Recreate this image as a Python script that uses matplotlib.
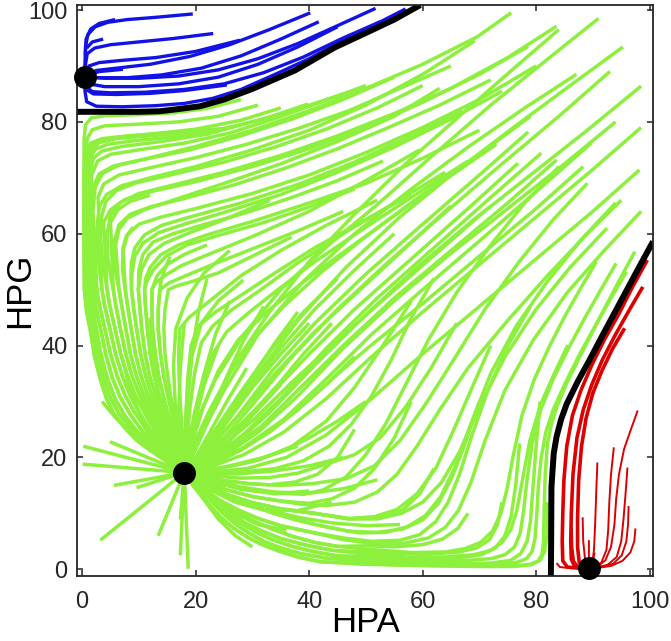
import matplotlib
matplotlib.use("Agg")
import matplotlib.pyplot as plt

# Colours
GREEN = "#8cf03c"
BLUE = "#1212e6"
RED = "#dd0000"

# Stable states (HPA, HPG)
fixed_x = [0.5, 18.0, 89.4]
fixed_y = [88.1, 17.3, 0.2]

# Separatrices
sep_upper = [(-0.9, 81.8), (5, 81.8), (10, 81.8), (13.7, 81.9), (17, 82.3), (20.8, 82.8),
             (25, 84.0), (30, 85.9), (37.5, 89.2), (44.5, 93.3), (50, 95.9), (55, 98.3),
             (59.6, 100.9)]
sep_lower = [(82.6, -1.2), (82.65, 5), (82.7, 14.7), (83.1, 20.7), (83.6, 23.7), (84.4, 26.8),
             (85.4, 29.6), (87.3, 33.5), (89.4, 37.4), (92, 42.4), (94.7, 47.5), (97.6, 53),
             (100.6, 58.6)]

# ---- green: lower parts (below HPG=50) of the trajectories coming down the left side
T01 = [(0.4, 50), (0.8, 46), (1.4, 43), (2.2, 38), (3.2, 34), (4.3, 30.5), (5.5, 28), (7.5, 25.3),
       (9.6, 23.1), (11.7, 21.5), (13.7, 20.1), (16, 18.6), (18, 17.3)]
T02 = [(0.8, 50), (1.4, 46), (1.95, 43), (2.8, 38), (3.8, 34.2), (5, 30.6), (6.5, 27.8), (8.5, 25.2),
       (10.8, 23), (13, 21.3), (15.5, 19.3), (18, 17.3)]
T03 = [(1.4, 50), (1.8, 47), (2.5, 43), (3.4, 38), (4.5, 34), (5.8, 30.5), (7.5, 27.5), (9.6, 24.8),
       (12, 22.5), (14.5, 20.3), (18, 17.3)]
T04 = [(2.0, 50), (2.4, 47), (3.25, 43), (4.2, 38.3), (5.3, 34.3), (6.7, 30.8), (8.4, 27.8), (10.4, 25),
       (12.7, 22.4), (15.2, 20), (18, 17.3)]
T05 = [(2.6, 50), (3, 47.5), (4, 43), (5, 38.5), (6.2, 34.5), (7.6, 31), (9.3, 28), (11.3, 25),
       (13.5, 22.3), (15.8, 19.8), (18, 17.3)]
T06 = [(3.5, 50), (3.9, 47.5), (4.9, 43), (5.9, 38.5), (7.1, 34.5), (8.5, 31), (10.1, 28), (12, 25),
       (14, 22.3), (16, 19.8), (18, 17.3)]
T07 = [(4.4, 50), (4.8, 47.5), (5.8, 43), (6.8, 38.5), (8, 34.5), (9.4, 31), (11, 28), (12.8, 25),
       (14.6, 22.3), (16.3, 19.8), (18, 17.3)]
T08 = [(5.5, 50), (5.9, 47.3), (6.75, 43), (7.7, 38.5), (8.8, 34.5), (10.2, 31), (11.6, 28), (13.3, 25),
       (15, 22.2), (16.5, 19.7), (18, 17.3)]
T09 = [(6.5, 50), (7, 47), (7.7, 43), (8.5, 38.5), (9.6, 34.5), (10.9, 31), (12.3, 28), (13.8, 25),
       (15.3, 22.2), (16.7, 19.7), (18, 17.3)]
T10 = [(7.6, 50), (8.1, 46.5), (8.65, 43), (9.4, 38.5), (10.4, 34.5), (11.6, 31), (12.9, 28),
       (14.3, 24.8), (15.8, 21.8), (18, 17.3)]
T11 = [(8.7, 50), (9.1, 46.5), (9.6, 43), (10.3, 38.5), (11.2, 34.5), (12.3, 31), (13.5, 27.8),
       (14.8, 24.7), (16.2, 21.5), (18, 17.3)]
T12 = [(9.9, 50), (10.2, 46.5), (10.5, 43), (11.1, 38.5), (11.9, 34.5), (13, 31), (14.1, 27.7),
       (15.3, 24.5), (16.5, 21.2), (18, 17.3)]
T13 = [(11, 50), (11.2, 46.5), (11.5, 43), (12, 38.5), (12.7, 34.5), (13.6, 31), (14.6, 27.6),
       (15.7, 24.3), (16.8, 21), (18, 17.3)]
T14 = [(12.3, 50), (12.3, 46.5), (12.4, 43), (12.9, 38.5), (13.5, 34.5), (14.3, 31), (15.2, 27.5),
       (16.2, 24.2), (17.1, 20.8), (18, 17.3)]
T15 = [(13.7, 50), (13.4, 46.5), (13.4, 43), (13.8, 38.5), (14.4, 34.5), (15.1, 31), (15.9, 27.5),
       (16.7, 24), (17.4, 20.6), (18, 17.3)]
T16 = [(15.2, 50), (14.6, 46.5), (14.4, 43), (14.6, 38.5), (15.1, 34.5), (15.6, 31), (16.3, 27.5),
       (17, 24), (17.5, 20.6), (18, 17.3)]

# ---- green: left-going ends of the trajectories running along the HPA axis
TRa = [(42, 1.35), (38, 2.2), (34.3, 3.4), (31.5, 4.5), (29, 5.8), (26.5, 7.5), (24.3, 9.4), (22, 12),
       (20.2, 14.7), (18, 17.3)]
TRb = [(43, 2.0), (38.5, 2.8), (35, 3.8), (32, 5), (29.5, 6.4), (27, 8.1), (24.8, 10), (22.6, 12.4),
       (20.5, 14.9), (18, 17.3)]
TRc = [(45, 2.4), (41, 3.1), (37, 4.1), (33.5, 5.3), (30.5, 6.7), (27.8, 8.3), (25.3, 10.2), (23, 12.3),
       (20.8, 14.6), (18, 17.3)]
TRd = [(44, 3.4), (39.5, 4.3), (35, 5.5), (31.5, 6.9), (28.5, 8.4), (25.8, 10.2), (23.4, 12.2), (21, 14.5),
       (18, 17.3)]
TRe = [(45, 4.1), (41, 4.8), (37, 5.9), (33.5, 7.2), (30.3, 8.6), (27.4, 10.1), (24.8, 11.8), (22.3, 13.6),
       (20, 15.4), (18, 17.3)]
TRf = [(40.5, 6.6), (35, 7.8), (31, 9.1), (27.5, 10.6), (24.5, 12.2), (21.8, 14), (19.8, 15.7), (18, 17.3)]
TRg = [(42, 7.8), (37.5, 8.9), (33.5, 10.1), (30, 11.4), (26.8, 12.8), (23.8, 14.2), (21, 15.7), (18, 17.3)]
TRh = [(41, 10), (35, 10.8), (30, 11.9), (26, 13.2), (22.5, 14.6), (20, 15.8), (18, 17.3)]
TRi = [(35, 12.2), (30, 13), (25.5, 14.2), (21.5, 15.7), (18, 17.3)]
TRj = [(35, 13.6), (30, 14.2), (25.5, 15.1), (21.5, 16.2), (18, 17.3)]
TRk = [(35, 15), (29.5, 15.3), (24, 16), (18, 17.3)]
TRl = [(38, 17.2), (33, 16.4), (28, 16.3), (23, 16.7), (18, 17.3)]

# Trajectories that first run left towards the HPG axis
green_left = [
    [(28, 84), (22, 82.4), (16, 81.6), (10, 81.3), (4, 81.1), (1.6, 80.7), (0.6, 79.5), (0.35, 77),
     (0.3, 70), (0.3, 60), (0.35, 54)] + T01,
    [(24.6, 78.8), (16, 78.1), (8, 77.5), (3.5, 77), (1.5, 76.2), (0.6, 74.5), (0.4, 71), (0.35, 60)] + T01,
    [(35, 82.5), (28, 80.3), (20, 78.7), (12, 77.8), (6, 77.2), (2.8, 76.6), (1.3, 75.3), (0.8, 72.5),
     (0.7, 66), (0.7, 58)] + T02,
    [(31, 83), (24, 81), (17, 80), (10, 79.6), (4, 79.3), (1.8, 78.6), (0.9, 77), (0.6, 73), (0.6, 65)] + T02,
    [(39.8, 83.2), (32, 80.5), (24, 78.6), (16, 77.3), (9, 76.6), (4.5, 76), (2.3, 75.1), (1.3, 73.3),
     (1, 70), (1, 62), (1.1, 56)] + T03,
    [(18.7, 78.1), (12, 77.5), (6, 77), (3, 76.3), (1.6, 75), (1.1, 72.5), (1, 68)] + T03,
    [(46, 85), (38, 82.3), (30, 80), (22, 77.8), (14, 76.5), (7, 75.6), (3.5, 74.8), (2, 73.5), (1.4, 71),
     (1.3, 65), (1.5, 58), (1.7, 54)] + T04,
    [(50, 86.5), (42, 83.5), (34, 80.6), (26, 78), (18, 76.2), (10, 75), (5, 74.2), (2.7, 73), (1.7, 70.5),
     (1.4, 66)] + T04,
    [(55, 88), (46, 84), (37, 80.5), (28, 77.5), (19, 75), (11, 73.3), (5.5, 72.1), (3, 70.7), (2, 68.5),
     (1.7, 64), (1.9, 58), (2.2, 54)] + T05,
    [(75.6, 99.5), (69.6, 95.2), (59.8, 90.2), (50, 86), (40, 82), (30, 78.5), (20, 75.6), (12, 73.6),
     (6.5, 72.3), (3.6, 70.8), (2.3, 68.3), (1.9, 64)] + T05,
    [(69.2, 94.5), (60, 88.5), (50, 83), (40, 78.5), (30, 75), (20, 72), (12, 70), (7, 68.6), (4.3, 67),
     (3, 64.8), (2.6, 61), (2.8, 56), (3.1, 53)] + T06,
    [(65, 90), (56, 86), (47, 82), (38, 78.8), (29, 76), (20, 73.6), (12, 71.8), (6.5, 70.5), (3.8, 68.9),
     (2.8, 66.5)] + T06,
    [(60, 86.5), (52, 82.5), (43, 78.7), (34, 75.5), (25, 72.8), (16, 70.6), (9.5, 69.1), (6, 67.7),
     (4.2, 65.8), (3.4, 63), (3.3, 59), (3.6, 55), (4, 52.5)] + T07,
    [(78.6, 93.5), (70, 88.5), (60, 83.5), (50, 79), (40, 75.2), (30, 72), (20, 69.3), (12, 67.5),
     (7.5, 66.1), (5, 64.3), (3.8, 62)] + T07,
    [(83.6, 97.1), (75, 91.5), (65, 86), (55, 81.5), (45, 77.5), (35, 74), (25, 71), (16, 68.7), (10, 67.2),
     (6.8, 65.6), (5, 63.3), (4.4, 60), (4.5, 56), (5, 52.5)] + T08,
    [(12, 66.9), (8.5, 65.8), (6.3, 64.3), (5, 62)] + T08,
    [(72, 87.5), (63, 83), (54, 79), (45, 75.2), (36, 71.8), (27, 68.8), (18, 66.3), (12, 64.8),
     (8.5, 63.5), (6.5, 61.6), (5.7, 58.8), (5.7, 55.5), (6, 52.5)] + T09,
    [(63, 86), (55, 81), (45, 76.5), (35, 72.5), (25, 69), (16, 66), (11, 64.3), (8, 62.8), (6.5, 60.8),
     (5.9, 58)] + T09,
    [(80, 90), (70, 84), (60, 79), (50, 74.5), (40, 70.5), (30, 67.2), (20, 64.5), (14, 63), (10, 61.7),
     (8, 59.8), (7.2, 57), (7.1, 54), (7.3, 52)] + T10,
    [(9, 61.2), (7.8, 59.6), (7.2, 57.5)] + T10,
    [(67, 82), (58, 77.5), (48, 72.8), (38, 68.8), (28, 65.5), (19, 63), (14, 61.5), (11, 59.8), (9.3, 57.5),
     (8.7, 55), (8.6, 52.5)] + T11,
    [(74, 85.5), (65, 80.5), (55, 75.5), (45, 71), (35, 67), (25, 63.8), (18, 61.7), (13.5, 60.2),
     (10.7, 58.3), (9.3, 56), (8.8, 53)] + T11,
    [(53, 73), (45, 69.5), (37, 66.5), (29, 63.8), (21, 61.5), (16, 60), (12.5, 58.5), (10.7, 56.3),
     (10, 53.5)] + T12,
    [(33.1, 66), (25, 62.5), (19, 60.2), (14.5, 58.3), (11.8, 56.3), (10.4, 53.5)] + T12,
    [(70, 78.5), (60, 73.5), (50, 69), (40, 65.5), (30, 62.2), (22, 59.8), (17, 58), (13.8, 56.2),
     (12, 54), (11.2, 52)] + T13,
    [(48, 68), (40, 64.8), (32, 62), (24, 59.7), (18.5, 58), (14.8, 56), (12.5, 53.5), (11.4, 51.5)] + T13,
    [(22, 58), (18, 56.3), (15, 54.5), (13.2, 52.5)] + T14,
    [(59.5, 75), (50, 69.5), (40, 64), (30, 59.5), (22, 56.2), (17.5, 54.3), (14.5, 52.5), (12.8, 51)] + T14,
    [(15.5, 55.9), (14.5, 53.5), (13.9, 51.5)] + T15,
    [(46, 64), (38, 60.5), (30, 57.3), (23, 54.5), (18.5, 52.6), (15.3, 51.2)] + T15,
    [(36.9, 59.4), (30, 56), (24, 53), (19.5, 51.5), (16.5, 50.6)] + T16,
    [(52, 66), (43, 61.5), (35, 57), (28, 52.5), (22.5, 48), (18.8, 45), (17.2, 43), (17, 38.5),
     (17.1, 34), (17.3, 29.5), (17.6, 25), (17.8, 21), (18, 17.3)],
    [(28.4, 51.7), (24, 48), (21, 44), (19.3, 38), (18.5, 31), (18.1, 24), (18, 17.3)],
    [(58, 67), (49, 62), (41, 57.5), (34, 53), (28, 49), (23.5, 46), (20.5, 43.5), (19.2, 40),
     (18.6, 34), (18.3, 28), (18.1, 22), (18, 17.3)],
    [(64, 71), (55, 65.5), (46, 60), (38, 54.8), (31.5, 50), (26.5, 46.5), (23, 43.5), (21, 40.5),
     (19.8, 35), (19, 29), (18.5, 23), (18, 17.3)],
    [(68, 73), (58, 66.5), (49, 60.5), (41, 55), (34.5, 50), (29.5, 46), (25.5, 42.5), (22.7, 38),
     (20.8, 32), (19.4, 25.5), (18.5, 20.5), (18, 17.3)],
    [(73, 76), (63, 69), (54, 62.5), (45.5, 56.3), (38.5, 51), (32.5, 46), (27.5, 41), (24, 35.5),
     (21.5, 29.5), (19.8, 24), (18.7, 20), (18, 17.3)],
    [(79, 81), (69, 73.5), (59, 66.3), (50, 59.5), (42, 53), (35.5, 47), (30, 41), (26, 35),
     (22.8, 28.5), (20.5, 23), (18, 17.3)],
]

# Trajectories running down the diagonal
green_mid = [
    [(91, 98.5), (82, 91.2), (72, 83), (62, 74.2), (52, 65.2), (43, 57.6), (35, 50), (28.5, 42),
     (23.5, 34), (20, 26), (18, 17.3)],
    [(84, 96.5), (76, 89.5), (67, 81.5), (57, 72.5), (48, 63.5), (40, 55), (33, 46), (27, 37),
     (22.5, 28.5), (19.5, 22), (18, 17.3)],
    [(87.1, 88.5), (78, 82.5), (68, 75.5), (58, 68), (48, 60), (39, 51.5), (31, 42), (25, 32), (21, 24), (18, 17.3)],
    [(95.3, 93.4), (86, 86.5), (76, 79), (66, 71.3), (56, 63), (46.5, 54), (38, 44.5), (31, 35),
     (25.5, 27), (21.5, 21.5), (18, 17.3)],
    [(93, 89), (84, 81), (74, 72.5), (64, 63.8), (54, 55), (45, 46.5), (37, 38), (30.5, 30),
     (25, 23.5), (21, 19.5), (18, 17.3)],
    [(80.9, 74.4), (72, 66.5), (62, 57.5), (52, 48.5), (43, 39.5), (35, 30.5), (28.5, 24.2), (23, 20), (18, 17.3)],
    [(78.6, 78.2), (70, 70.5), (60, 61.7), (50, 52.8), (41, 44), (33.5, 35.5), (27.5, 27.5), (22.5, 21.5), (18, 17.3)],
    [(98.5, 86.4), (89, 78.5), (79, 70.5), (69, 62.5), (59, 54), (50, 45.5), (41, 36.5), (33, 28),
     (26.5, 22), (21.5, 18.8), (18, 17.3)],
    [(83.6, 73.2), (75, 65.5), (65, 57), (55, 48.5), (46, 40), (38, 32), (31.5, 25.5), (26, 21.5),
     (21.5, 18.6), (18, 17.3)],
    [(94, 80), (85, 72.5), (75, 64.5), (65, 56.5), (55, 48), (46, 39.5), (38, 31), (31, 24.5),
     (25, 20.3), (21, 18.3), (18, 17.3)],
    [(76.8, 72.6), (68, 64.5), (58, 55.5), (48, 46.5), (40, 38.5), (33, 31), (27, 25), (22, 20.3), (18, 17.3)],
    [(89.7, 76.2), (80, 67.5), (70, 58.7), (60, 50), (51, 42), (43, 34), (35.5, 26.8), (28.5, 21.8),
     (22.5, 18.8), (18, 17.3)],
    [(98.5, 79), (90, 71.5), (80, 63), (70, 54.5), (60, 46), (51, 38), (43, 30.5), (35.5, 24.5),
     (28.5, 20.5), (22.5, 18.3), (18, 17.3)],
    [(88.3, 72), (80, 64.5), (70, 56), (60, 47.5), (50, 39.3), (42, 32.2), (34.5, 25.8), (28, 21.5),
     (22.5, 18.8), (18, 17.3)],
    [(71.8, 64.8), (63, 57), (54, 49), (45, 41), (37, 33.5), (30.5, 27), (25, 22.3), (21, 19.2), (18, 17.3)],
    [(65, 65), (57, 57.5), (49, 50), (41, 42.5), (34, 35), (28, 28), (23, 22.3), (18, 17.3)],
    [(55, 60), (48, 53.5), (41, 46.5), (35, 39.5), (29.5, 32.5), (25, 26), (21.3, 21), (18, 17.3)],
    [(45, 52), (39, 46), (33.5, 39.5), (28.5, 32.5), (24.5, 26.5), (21, 21.3), (18, 17.3)],
    [(40, 44), (35, 38.5), (30, 32.5), (26, 27), (22.5, 22), (18, 17.3)],
    [(58, 48), (53, 40), (48, 32.5), (43, 26.5), (37, 22), (31, 19.5), (25, 18.2), (18, 17.3)],
    [(98.2, 71.4), (90, 64), (80, 55.5), (70, 47), (60, 38.5), (51, 30.5), (43, 24), (36, 20),
     (29, 18), (23, 17.4), (18, 17.3)],
]

# Trajectories that drop to the HPA axis first
green_right = [
    [(97.4, 56.8), (95, 52.3), (92.5, 47.5), (90, 42.6), (87.5, 37.6), (85.4, 33.3), (83.7, 29.2),
     (82.7, 26), (82, 22.5), (81.6, 17), (81.4, 10), (81.3, 5), (81, 2.6), (80.3, 1.4), (79, 0.8),
     (76, 0.5), (70, 0.5), (60, 0.65), (50, 0.9)] + TRa,
    [(82, 12), (81.9, 6), (81.5, 3.2), (80.7, 1.6), (79, 0.9), (76, 0.6), (70, 0.55), (60, 0.7), (50, 0.95)] + TRa,
    [(95.9, 53.2), (93.2, 48.5), (90.4, 43.5), (87.6, 38.3), (85, 33), (83, 28.5), (81.7, 24.5),
     (80.9, 20), (80.4, 15), (80.1, 9.5), (79.8, 5.5), (79.3, 3.2), (78.3, 1.9), (76.5, 1.2), (73, 0.9),
     (66, 0.95), (58, 1.15), (50, 1.4)] + TRb,
    [(80.7, 30), (80, 22), (79.4, 14), (79, 8.5), (78.4, 5), (77.3, 2.8), (75.5, 1.6), (72, 1.1), (65, 1.0),
     (57, 1.2), (50, 1.5)] + TRb,
    [(94.1, 54.7), (91.3, 49.8), (88.5, 44.8), (85.7, 39.5), (83, 34), (80.8, 28.5), (79.3, 22.5),
     (78.4, 16), (77.8, 10.5), (77.2, 6.5), (76.2, 4), (74.5, 2.6), (72, 1.9), (68, 1.6), (60, 1.6),
     (50, 1.9)] + TRc,
    [(77.1, 22.5), (76.4, 15), (75.6, 9.5), (74.5, 6), (72.8, 3.8), (70.3, 2.6), (66, 2.0), (60, 1.9),
     (50, 2.3)] + TRc,
    [(85.6, 40.1), (83.2, 35), (80.8, 29.5), (78.9, 23), (77.6, 16), (76.6, 10.5), (75.5, 7), (74, 4.8),
     (72, 3.4), (69, 2.6), (64, 2.2), (57, 2.2), (50, 2.7)] + TRd,
    [(74, 12), (73.2, 8), (71.8, 5.3), (69.5, 3.8), (66, 3.0), (60, 2.7), (52, 3)] + TRd,
    [(90.6, 55), (88, 50.5), (85.2, 45.5), (82.4, 40), (79.7, 34), (77.5, 27.5), (76, 20.5), (74.9, 14.5),
     (73.8, 10), (72.3, 6.8), (70.2, 4.8), (67.5, 3.7), (64, 3.1), (58, 3), (50, 3.6)] + TRe,
    [(68, 10), (66.2, 7.3), (63.5, 5.4), (60, 4.4), (55, 4), (50, 4.2)] + TRe,
    [(98.5, 64), (92, 57), (85.5, 49.5), (79.5, 41), (74.5, 32), (71, 23), (68.5, 15.5), (66.3, 10.5),
     (64, 7.5), (61, 5.6), (57, 4.7), (52, 4.5), (46, 5.3)] + TRf,
    [(79, 47), (75, 40), (71.5, 32), (68.7, 24), (66.5, 17), (64.5, 12), (62.3, 8.5), (59.5, 6.2),
     (56, 5.2), (51, 5), (46, 5.6)] + TRf,
    [(94, 65.5), (88, 59), (82, 51.5), (76.5, 43.5), (72, 35), (68.5, 26), (65.8, 18.5), (63.2, 13),
     (60.5, 9.6), (57.3, 7.6), (53.5, 6.6), (49, 6.5), (46, 7)] + TRg,
    [(70, 30), (67.5, 22.5), (65.2, 16.5), (62.8, 11.8), (60, 8.8), (56.5, 7.2), (52, 6.6), (47, 6.8)] + TRg,
    [(92.5, 61), (86, 54), (80, 46.5), (74.5, 38), (70, 29), (66.5, 21), (63.3, 15.5), (60, 12),
     (56.3, 10), (52, 9), (47, 9)] + TRh,
    [(72, 40), (68.5, 32), (65.3, 24.5), (62.3, 18), (59, 13.5), (55.5, 10.7), (51.5, 9.4), (47, 9.1)] + TRh,
    [(62, 18), (59.5, 13.5), (56.5, 10.6), (52.5, 9.3), (47, 9)] + TRh,
    [(95, 66), (89, 60), (82, 52.5), (75, 44.5), (68, 36), (63, 28.5), (59, 22), (55.5, 17), (52, 13.8),
     (48, 12), (43, 11.4), (39, 11.6)] + TRi,
    [(58, 30), (55, 23.5), (51.5, 18), (48, 14.5), (44, 12.6), (40, 11.8)] + TRi,
    [(84, 72), (78, 65.5), (72, 58), (66, 49.5), (61, 41), (57, 33), (53.5, 26), (50, 20.5),
     (46.5, 16.5), (42.5, 14.2), (39, 13.4)] + TRj,
    [(89, 69), (83, 62.5), (77, 55), (71, 46.5), (65.5, 37.5), (60.5, 29.5), (56, 23), (51.5, 18.5),
     (46.5, 16.2), (40.5, 15.3)] + TRk,
    [(48, 25), (45, 20), (41.5, 17), (37.5, 15.6), (33, 15.1)] + TRk[1:],
    [(66, 44), (61.5, 36), (57, 29), (52.5, 23.5), (48, 20.5), (43, 18.8)] + TRl,
    [(62, 52), (58, 45), (54.5, 37.5), (51, 31), (47.5, 26), (43.5, 22), (39, 19.4), (34, 18), (28, 17.4),
     (23, 17.2), (18, 17.3)],
    [(44, 12), (38, 10.5), (32, 10.6), (27, 12), (22.5, 14.2), (18, 17.3)],
]

# Trajectories starting close to the middle attractor
green_near = [
    [(12, 45), (12.5, 38), (13.5, 31), (15, 25), (16.5, 20.5), (18, 17.3)],
    [(18, 44), (17.3, 36), (17, 28), (17.3, 22), (18, 17.3)],
    [(24, 40), (21.5, 33), (19.8, 26), (18.8, 21), (18, 17.3)],
    [(7, 38), (8.5, 32), (10.5, 27), (13, 23), (15.5, 19.8), (18, 17.3)],
    [(3.5, 30), (6, 27), (9, 24), (12.5, 21.3), (15.5, 19), (18, 17.3)],
    [(29, 36), (25.5, 30), (22.5, 24.5), (20, 20), (18, 17.3)],
    [(35, 33), (30, 27.5), (25.5, 22.5), (21.5, 19.3), (18, 17.3)],
    [(38, 22), (32, 20), (26, 18.5), (21.5, 17.6), (18, 17.3)],
    [(40, 14), (34, 13.5), (28, 14.3), (23, 15.6), (18, 17.3)],
    [(36, 7), (31, 8), (26.5, 10.2), (22.5, 13.3), (18, 17.3)],
    [(30, 4), (27, 6), (24, 9), (21.5, 12.4), (19.5, 15), (18, 17.3)],
    [(26, 48), (23.5, 42), (21.5, 35), (19.8, 28), (18.7, 22), (18, 17.3)],
    [(32, 47), (28.5, 41), (25.5, 34.5), (22.8, 28), (20.5, 22.5), (18, 17.3)],
    [(38, 46), (34, 40.5), (30, 34.5), (26.3, 28.5), (22.8, 23), (20, 19.5), (18, 17.3)],
    [(44, 44), (39, 38.5), (34.5, 33), (30, 28), (25.5, 23.5), (21.5, 19.8), (18, 17.3)],
    [(48, 38), (43, 33), (38, 28.5), (33, 24.5), (28, 21.3), (23, 18.8), (18, 17.3)],
    [(50, 30), (45, 26.5), (40, 23.5), (35, 21), (30, 19.3), (24, 18), (18, 17.3)],
    [(46, 20), (40, 18.5), (34, 17.6), (28, 17.1), (23, 17), (18, 17.3)],
    [(52, 16), (46, 14.4), (40, 13.6), (34, 13.8), (28, 14.7), (23, 15.9), (18, 17.3)],
    [(56, 8), (50, 7.8), (44, 8.3), (38, 9.3), (32, 10.8), (27, 12.5), (22.5, 14.7), (18, 17.3)],
    [(22, 52), (20.5, 46), (19.4, 39), (18.7, 31), (18.3, 24), (18, 17.3)],
    [(26, 57), (21.5, 53), (18.5, 48.5), (16.5, 43), (16.1, 36.5), (16.4, 29.5), (17, 23.5), (18, 17.3)],
]

# Short straight green trajectories from the lower left
green_short_x = [0.2, 4.9, 0.1, 5.6, 9.6, 3.2, 13.4, 17.3, 17.3, 18.7]
green_short_y = [22.0, 22.8, 18.8, 15.0, 14.6, 5.2, 6.0, 8.9, 2.5, 0.1]

# Blue basin
blue_paths = [
    [(19.5, 99.3), (13, 98.7), (8, 98.3), (4.5, 97.8), (2.3, 97), (1, 95.6), (0.6, 93.5), (0.5, 90.5), (0.5, 88.1)],
    [(5.8, 98.3), (3, 97.6), (1.5, 96.6), (0.7, 94.8), (0.55, 92)],
    [(23.1, 95.8), (16, 94.9), (10, 94.3), (5, 93.8), (2.2, 93.2), (0.9, 92.2), (0.55, 90), (0.5, 88.1)],
    [(3.7, 94.8), (1.8, 94.3), (0.8, 93.2)],
    [(27.8, 94.6), (20, 92.6), (13, 91.5), (7, 91), (3, 90.6), (1.2, 90), (0.5, 88.1)],
    [(40.2, 99.5), (33, 96.5), (26, 93.8), (19, 91.7), (12, 90.3), (6, 89.6), (2.5, 89.2), (0.5, 88.1)],
    [(41.7, 97.9), (35, 94.8), (28, 91.8), (21, 89.6), (14, 88.4), (8, 87.9), (3, 87.9), (0.5, 88.1)],
    [(51.7, 100.3), (45, 97.2), (38, 94), (31, 91.3), (24, 89.3), (17, 88.2), (10, 87.8), (4, 87.8),
     (1.2, 88), (0.5, 88.1)],
    [(45, 97), (38, 93.4), (31, 90.3), (24, 88), (17, 86.8), (10, 86.3), (4, 86.3), (1.2, 86.8), (0.5, 88.1)],
    [(52.5, 97.9), (46, 95), (39, 91.6), (32, 88.8), (25, 86.8), (18, 85.8), (11, 85.3), (5, 85.2),
     (1.8, 85.4), (0.7, 86.3), (0.5, 88.1)],
    [(25.5, 86.6), (18, 85.6), (12, 85.1), (6, 84.9), (2, 85), (0.7, 85.8), (0.5, 88.1)],
    [(7.2, 89.4), (3, 89), (0.5, 88.1)],
    [(57, 100.2), (52, 97.6), (46, 94.6), (40, 91.3), (34, 88.5), (28, 85.8), (23, 84.2), (18, 83.3),
     (13, 82.9), (7, 82.7), (2.5, 82.8), (0.8, 83.6), (0.5, 85.5), (0.5, 88.1)],
]

# Red basin
red_thick = [
    [(99.6, 55.3), (97, 50.5), (94.5, 45.5), (92, 41), (89.8, 36.5), (87.9, 32), (86.4, 27.5),
     (85.4, 22), (84.9, 16), (84.7, 10), (84.6, 5), (84.7, 1.5), (85.5, 0.4), (87.5, 0.2), (89.4, 0.2)],
    [(98.8, 50.5), (96.5, 46.5), (94, 42), (91.7, 37.5), (89.8, 33), (88.3, 28.5), (87.2, 23.5),
     (86.5, 17), (86.2, 10), (86.1, 5), (86.2, 1.8), (86.8, 0.5), (89.4, 0.2)],
    [(95.6, 43.1), (93.5, 39.5), (91.6, 35.5), (90, 31.5), (88.8, 27), (88, 22), (87.5, 16),
     (87.3, 9), (87.3, 4), (87.6, 1.2), (88.3, 0.4), (89.4, 0.2)],
]
red_thin = [
    [(97.9, 28.4), (96.7, 25), (95.5, 21.5), (94.6, 17), (94.1, 12.5), (93.8, 8), (93.2, 4),
     (92.2, 1.6), (90.8, 0.5), (89.4, 0.2)],
    [(93.7, 21.8), (93.2, 17), (92.9, 12), (92.7, 7), (92.4, 3.5), (91.5, 1.2), (90.3, 0.4)],
    [(90.8, 19.1), (90.6, 14), (90.4, 8), (90.2, 3.5), (89.9, 1), (89.5, 0.2)],
    [(96.1, 18.2), (95.8, 14), (95.4, 9), (95, 5), (94.2, 2.2), (92.6, 0.8), (90.5, 0.3)],
    [(96.3, 11.3), (96.2, 8), (95.9, 5), (95.1, 2.5), (93.6, 1), (91.5, 0.35)],
    [(97.5, 7.3), (97.3, 5), (96.6, 3), (95.2, 1.5), (93.2, 0.6), (90.8, 0.25)],
    [(88.2, 9.3), (88.3, 5), (88.6, 2), (89.1, 0.5)],
    [(86.3, 7.5), (86.4, 4), (86.7, 1.5), (87.5, 0.4), (89.4, 0.2)],
    [(89.3, 5.2), (89.3, 2.5), (89.4, 0.5)],
    [(90.3, 3), (90, 1.2), (89.6, 0.4)],
    [(83.6, 1.1), (84.2, 0.4), (86, 0.2), (89.4, 0.2)],
]

ticks = [0, 20, 40, 60, 80, 100]

plt.rcParams['font.family'] = ['Liberation Sans', 'DejaVu Sans']
fig = plt.figure(figsize=(6.71, 6.41), dpi=100)
ax = fig.add_axes([0.1148, 0.1014, 0.8584, 0.8908])


def draw(paths, color, lw):
    for pts in paths:
        xs, ys = zip(*pts)
        ax.plot(xs, ys, color=color, lw=lw, solid_capstyle='butt', solid_joinstyle='round')


draw(green_left + green_mid + green_right + green_near, GREEN, 2.5)
for sx, sy in zip(green_short_x, green_short_y):
    ax.plot([sx, fixed_x[1]], [sy, fixed_y[1]], color=GREEN, lw=2.5, solid_capstyle='butt')
draw(blue_paths, BLUE, 2.4)
draw(red_thin, RED, 1.4)
draw(red_thick, RED, 2.6)
draw([sep_upper, sep_lower], 'black', 4.3)
ax.plot(fixed_x, fixed_y, 'o', color='black', ms=15.5, clip_on=False, zorder=5)

ax.set_xlim(-0.9, 100.6)
ax.set_ylim(-1.2, 100.9)
ax.set_xticks(ticks)
ax.set_yticks(ticks)
ax.tick_params(direction='in', length=4, width=1.1, colors='#262626', labelsize=17,
               top=True, right=True)
ax.tick_params(axis='x', pad=11)
ax.tick_params(axis='y', pad=7)
for s in ax.spines.values():
    s.set_color('#262626')
    s.set_linewidth(1.3)
ax.set_xlabel('HPA', fontsize=25, color='black')
ax.set_ylabel('HPG', fontsize=25, color='black')
ax.xaxis.set_label_coords(0.5, -0.052)
ax.yaxis.set_label_coords(-0.071, 0.5)

fig.savefig('out.png', dpi=100)
